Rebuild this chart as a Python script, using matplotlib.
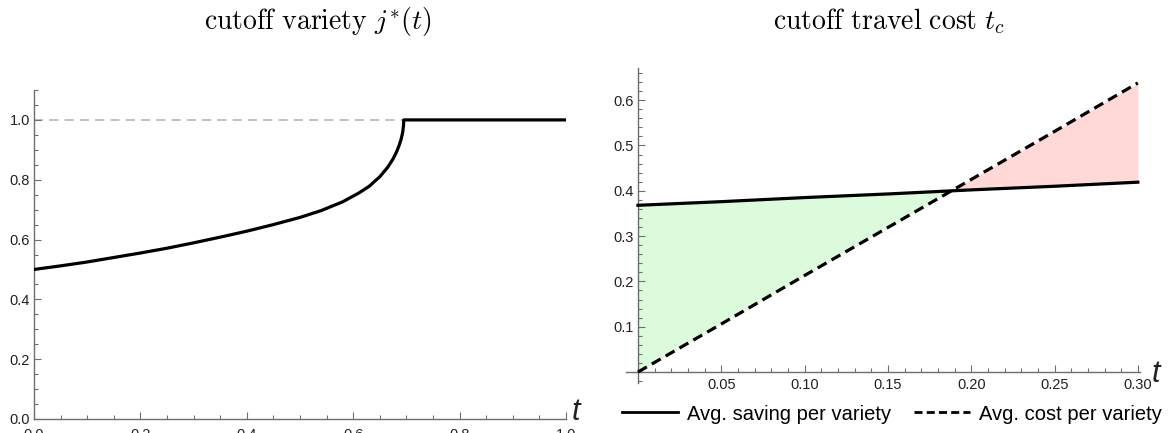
import numpy as np
import matplotlib.pyplot as plt
from matplotlib.lines import Line2D
from matplotlib.ticker import MultipleLocator, FormatStrFormatter

plt.rcParams['font.family'] = ['Liberation Sans', 'DejaVu Sans']
plt.rcParams['mathtext.fontset'] = 'cm'

# left panel: cutoff variety j*(t)
t_left = [0.0, 0.05, 0.1, 0.15, 0.2, 0.25, 0.3, 0.35, 0.4, 0.45, 0.5,
          0.54, 0.58, 0.61, 0.63, 0.65, 0.665, 0.675, 0.682, 0.687,
          0.690, 0.693, 0.6945, 0.695, 1.0]
j_star = [0.500, 0.512, 0.525, 0.540, 0.555, 0.571, 0.589, 0.608, 0.628,
          0.650, 0.674, 0.697, 0.726, 0.755, 0.778, 0.810, 0.842, 0.870,
          0.895, 0.918, 0.935, 0.958, 0.980, 1.000, 1.000]

# right panel: avg saving vs avg cost per variety
t_right = [0.0, 0.05, 0.10, 0.15, 0.20, 0.25, 0.30]
saving = [0.368, 0.376, 0.385, 0.393, 0.402, 0.410, 0.419]
cost = [0.0, 0.106, 0.213, 0.319, 0.425, 0.531, 0.638]

axis_col = '#6e6e6e'
label_col = '#222222'

fig = plt.figure(figsize=(11.72, 4.33), dpi=100)


def style_axes(ax):
    for s in ['top', 'right']:
        ax.spines[s].set_visible(False)
    for s in ['left', 'bottom']:
        ax.spines[s].set_color(axis_col)
        ax.spines[s].set_linewidth(1.0)
    ax.tick_params(which='both', direction='in', color=axis_col,
                   labelcolor=label_col, labelsize=10.5, width=0.8)
    ax.tick_params(which='major', length=5)
    ax.tick_params(which='minor', length=3)
    ax.tick_params(axis='x', pad=4)
    ax.tick_params(axis='y', pad=3)


# ---- left
ax1 = fig.add_axes([34 / 1172, 14 / 433, 532 / 1172, 329 / 433])
ax1.set_xlim(0, 1.0)
ax1.set_ylim(0, 1.1)
style_axes(ax1)
ax1.tick_params(axis='x', pad=6.5)
ax1.axhline(1.0, color='#b0b0b0', lw=1.1, dashes=(6, 4), zorder=1)
ax1.plot(t_left, j_star, color='black', lw=2.3, zorder=3)
ax1.xaxis.set_major_locator(MultipleLocator(0.2))
ax1.xaxis.set_minor_locator(MultipleLocator(0.05))
ax1.yaxis.set_major_locator(MultipleLocator(0.2))
ax1.yaxis.set_minor_locator(MultipleLocator(0.05))
ax1.xaxis.set_major_formatter(FormatStrFormatter('%.1f'))
ax1.yaxis.set_major_formatter(FormatStrFormatter('%.1f'))
ax1.text(1.01, 0.02, 't', transform=ax1.transAxes, fontsize=22,
         style='italic', va='center', ha='left', color=label_col)

# ---- right
ax2 = fig.add_axes([626.3 / 1172, 50.1 / 433, 513.2 / 1172, 314.9 / 433])
ax2.set_xlim(-0.007, 0.301)
ax2.set_ylim(-0.024, 0.671)
style_axes(ax2)
ax2.spines['left'].set_position(('data', 0))
ax2.spines['bottom'].set_position(('data', 0))
ta = np.array(t_right)
sa = np.array(saving)
ca = np.array(cost)
ax2.fill_between(ta, sa, ca, where=sa >= ca, interpolate=True,
                 color='#dcfbdc', lw=0, zorder=1)
ax2.fill_between(ta, sa, ca, where=ca >= sa, interpolate=True,
                 color='#ffd8d8', lw=0, zorder=1)
ax2.plot(t_right, saving, color='black', lw=2.3, zorder=3)
ax2.plot(t_right, cost, color='black', lw=2.3, dashes=(3.2, 1.8), zorder=3)
ax2.set_xticks([0.05, 0.10, 0.15, 0.20, 0.25, 0.30])
ax2.xaxis.set_minor_locator(MultipleLocator(0.01))
ax2.set_yticks([0.1, 0.2, 0.3, 0.4, 0.5, 0.6])
ax2.yaxis.set_minor_locator(MultipleLocator(0.02))
ax2.xaxis.set_major_formatter(FormatStrFormatter('%.2f'))
ax2.yaxis.set_major_formatter(FormatStrFormatter('%.1f'))
ax2.text(0.3085, -0.004, 't', fontsize=22, style='italic', va='center',
         ha='left', color=label_col, clip_on=False)

# titles
fig.text(318 / 1172, 1 - 21 / 433, r'$\mathrm{cutoff\ variety}\ j^{*}(t)$',
         ha='center', va='center', fontsize=20)
fig.text(889 / 1172, 1 - 21 / 433, r'$\mathrm{cutoff\ travel\ cost}\ t_c$',
         ha='center', va='center', fontsize=20)

handles = [Line2D([], [], color='black', lw=2.0),
           Line2D([], [], color='black', lw=2.0, dashes=(2.9, 1.5))]
fig.legend(handles, ['Avg. saving per variety', 'Avg. cost per variety'],
           loc='center', bbox_to_anchor=(892 / 1172, 19 / 433), ncol=2,
           frameon=False, fontsize=14.5, handlelength=2.8, handletextpad=0.45,
           columnspacing=1.1, borderpad=0.1)

fig.savefig('out.png', dpi=100)
